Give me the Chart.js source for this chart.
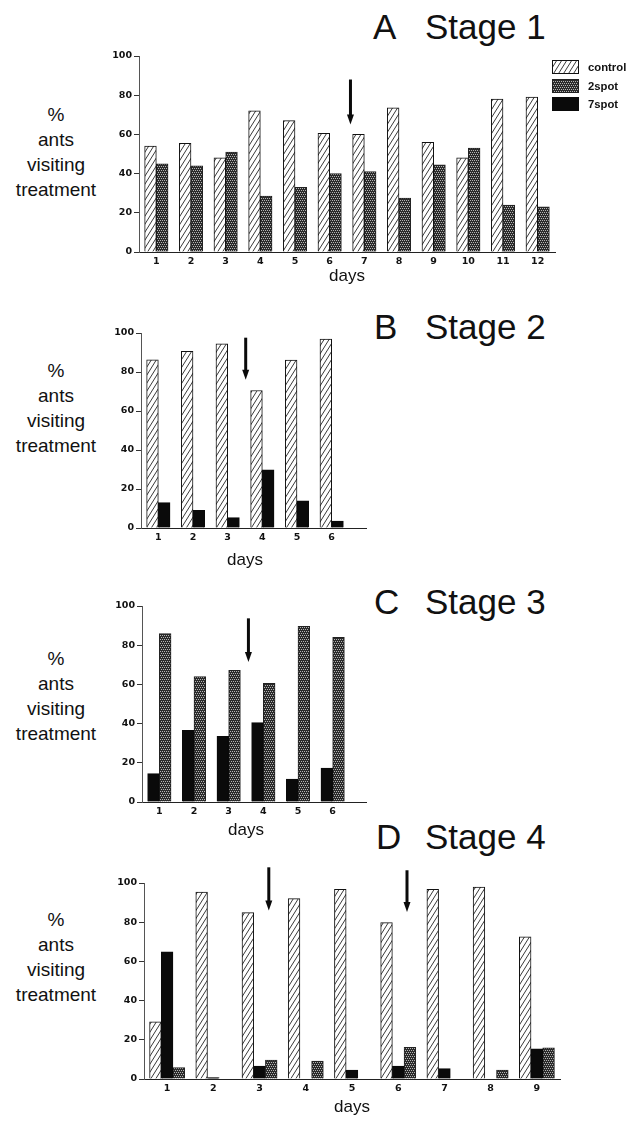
<!DOCTYPE html>
<html>
<head>
<meta charset="utf-8">
<script src="https://cdn.jsdelivr.net/npm/chart.js@4.4.1/dist/chart.umd.min.js"></script>
<style>
    body { margin: 0; background: #fff; }
    #page { position: relative; width: 628px; height: 1125px; overflow: hidden; font-family: "Liberation Sans", Arial, sans-serif; color: #111; }
    .panel { position: absolute; left: 0; }
    .ylab { position: absolute; left: 0; width: 112px; text-align: center; font-size: 19px; line-height: 25px; }
    .title { position: absolute; font-size: 35px; line-height: 35px; white-space: pre; }
    #legend { position: absolute; left: 552px; top: 60px; }
    .leg-row { display: flex; align-items: center; height: 14px; margin-bottom: 4.5px; font-size: 11.3px; font-weight: bold; }
    .leg-row canvas { display: block; margin-right: 9px; }
</style>
</head>
<body>
<div id="page">
    <div class="title" style="left:373px; top:9px;">A</div>
    <div class="title" style="left:425px; top:9px;">Stage 1</div>
    <div class="title" style="left:374px; top:309px;">B</div>
    <div class="title" style="left:425px; top:309px;">Stage 2</div>
    <div class="title" style="left:374px; top:584px;">C</div>
    <div class="title" style="left:425px; top:584px;">Stage 3</div>
    <div class="title" style="left:376px; top:819px;">D</div>
    <div class="title" style="left:425px; top:819px;">Stage 4</div>

    <div class="ylab" style="top:102px;">%<br>ants<br>visiting<br>treatment</div>
    <div class="ylab" style="top:358px;">%<br>ants<br>visiting<br>treatment</div>
    <div class="ylab" style="top:646px;">%<br>ants<br>visiting<br>treatment</div>
    <div class="ylab" style="top:907px;">%<br>ants<br>visiting<br>treatment</div>

    <canvas id="chartA" class="panel" width="628" height="300" style="top:0px;"></canvas>
    <canvas id="chartB" class="panel" width="628" height="290" style="top:290px;"></canvas>
    <canvas id="chartC" class="panel" width="628" height="270" style="top:575px;"></canvas>
    <canvas id="chartD" class="panel" width="628" height="285" style="top:840px;"></canvas>

    <div id="legend"></div>
</div>

<script>
// Stage 1
const daysA = ['1', '2', '3', '4', '5', '6', '7', '8', '9', '10', '11', '12'];
const controlA = [54, 55.5, 48, 72, 67, 60.5, 60, 73.5, 56, 48, 78, 79];
const twoSpotA = [45, 44, 51, 28.5, 33, 40, 41, 27.5, 44.5, 53, 24, 23];

// Stage 2
const daysB = ['1', '2', '3', '4', '5', '6'];
const controlB = [86.3, 90.6, 94.5, 70.5, 86.1, 96.9];
const sevenSpotB = [13, 9, 5.3, 29.8, 13.9, 3.6];

// Stage 3
const daysC = ['1', '2', '3', '4', '5', '6'];
const sevenSpotC = [14.5, 36.6, 33.5, 40.5, 11.7, 17.3];
const twoSpotC = [85.9, 64, 67.2, 60.5, 89.6, 84];

// Stage 4
const daysD = ['1', '2', '3', '4', '5', '6', '7', '8', '9'];
const controlD = [29.2, 95.4, 84.9, 92, 96.8, 79.8, 96.8, 97.9, 72.5];
const sevenSpotD = [64.9, 0.7, 6.6, null, 4.6, 6.6, 5.3, null, 15.4];
const twoSpotD = [5.8, null, 9.7, 9.2, null, 16.1, null, 4.6, 15.9];

// arrows: [day position, top value, tip value]
const arrowsA = [[6.6, 88, 65]];
const arrowsB = [[3.52, 97.6, 76]];
const arrowsC = [[3.57, 93.7, 71.4]];
const arrowsD = [[3.2, 108, 86], [6.19, 106.5, 85.2]];

const yTicks = [0, 20, 40, 60, 80, 100];
const legendNames = ['control', '2spot', '7spot'];

Chart.defaults.font.family = '"Liberation Sans", Arial, sans-serif';
Chart.defaults.color = '#111';

function makeHatch(ctx) {
    const c = document.createElement('canvas');
    const w = 5, h = 8;
    c.width = w; c.height = h;
    const g = c.getContext('2d');
    g.fillStyle = '#fff';
    g.fillRect(0, 0, w, h);
    g.strokeStyle = '#222';
    g.lineWidth = 0.9;
    g.beginPath();
    for (let k = -1; k <= 1; k++) {
        g.moveTo(k * w, h);
        g.lineTo(k * w + w, 0);
    }
    g.stroke();
    return ctx.createPattern(c, 'repeat');
}

function makeStipple(ctx) {
    const c = document.createElement('canvas');
    c.width = 4; c.height = 4;
    const g = c.getContext('2d');
    g.fillStyle = '#2b2b2b';
    g.fillRect(0, 0, 4, 4);
    g.fillStyle = '#b5b5b5';
    [[0, 0], [2, 0], [1, 2], [3, 2]].forEach(p => g.fillRect(p[0], p[1], 1, 1));
    return ctx.createPattern(c, 'repeat');
}

function fillFor(kind, ctx) {
    if (kind === 'control') return makeHatch(ctx);
    if (kind === 'twoSpot') return makeStipple(ctx);
    return '#0a0a0a';
}

const borders = { control: '#111', twoSpot: '#222', sevenSpot: '#0a0a0a' };

function series(kind, data, ctx) {
    return {
        data,
        backgroundColor: fillFor(kind, ctx),
        borderColor: borders[kind],
        borderWidth: 1,
        barThickness: 11.7
    };
}

const arrowPlugin = {
    id: 'arrows',
    afterDatasetsDraw(chart, args, opts) {
        const list = opts.list || [];
        const { ctx, scales: { x, y } } = chart;
        ctx.save();
        ctx.fillStyle = '#0a0a0a';
        ctx.strokeStyle = '#0a0a0a';
        list.forEach(a => {
            const px = x.getPixelForValue(a[0] - 1);
            const top = y.getPixelForValue(a[1]);
            const tip = y.getPixelForValue(a[2]);
            const head = 10;
            ctx.lineWidth = 3;
            ctx.beginPath();
            ctx.moveTo(px, top);
            ctx.lineTo(px, tip - head + 1);
            ctx.stroke();
            ctx.beginPath();
            ctx.moveTo(px - 3.5, tip - head);
            ctx.lineTo(px + 3.5, tip - head);
            ctx.lineTo(px, tip);
            ctx.closePath();
            ctx.fill();
        });
        ctx.restore();
    }
};

const axisExtPlugin = {
    id: 'axisExt',
    afterDraw(chart, args, opts) {
        if (!opts.length) return;
        const { ctx, chartArea } = chart;
        const yy = Math.round(chartArea.bottom) + 0.5;
        ctx.save();
        ctx.strokeStyle = '#222';
        ctx.lineWidth = 1;
        ctx.beginPath();
        ctx.moveTo(chartArea.right, yy);
        ctx.lineTo(chartArea.right + opts.length, yy);
        ctx.stroke();
        ctx.restore();
    }
};

const tickFont = { family: '"DejaVu Sans", sans-serif', size: 9.5, weight: 'bold' };

function makePanel(id, labels, kinds, values, p) {
    const ctx = document.getElementById(id).getContext('2d');
    const datasets = kinds.map((k, i) => series(k, values[i], ctx));
    return new Chart(ctx, {
        type: 'bar',
        data: { labels, datasets },
        options: {
            responsive: false,
            animation: false,
            events: [],
            layout: { padding: p.padding },
            plugins: {
                legend: { display: false },
                tooltip: { enabled: false },
                arrows: { list: p.arrows },
                axisExt: { length: p.ext || 0 }
            },
            scales: {
                x: {
                    offset: true,
                    grid: { display: false, drawTicks: false },
                    border: { color: '#222', width: 1 },
                    ticks: { font: tickFont, color: '#111', padding: 4, maxRotation: 0, autoSkip: false },
                    title: { display: true, text: 'days', color: '#111', font: { size: 17 }, padding: 0 },
                    afterFit: s => { s.height = p.xHeight; }
                },
                y: {
                    min: 0,
                    max: 100,
                    afterBuildTicks: s => { s.ticks = yTicks.map(v => ({ value: v })); },
                    grid: { drawOnChartArea: false, drawTicks: true, tickLength: 5, color: '#333' },
                    border: { color: '#555', width: 1 },
                    ticks: { font: tickFont, color: '#111', padding: 2 },
                    afterFit: s => { s.width = 40; }
                }
            }
        },
        plugins: [arrowPlugin, axisExtPlugin]
    });
}

function buildLegend() {
    const box = document.getElementById('legend');
    ['control', 'twoSpot', 'sevenSpot'].forEach((kind, i) => {
        const row = document.createElement('div');
        row.className = 'leg-row';
        const sw = document.createElement('canvas');
        sw.width = 27; sw.height = 14;
        const g = sw.getContext('2d');
        g.fillStyle = fillFor(kind, g);
        g.fillRect(0, 0, 27, 14);
        g.strokeStyle = borders[kind];
        g.lineWidth = 1;
        g.strokeRect(0.5, 0.5, 26, 13);
        row.appendChild(sw);
        const txt = document.createElement('span');
        txt.textContent = legendNames[i];
        row.appendChild(txt);
        box.appendChild(row);
    });
}

makePanel('chartA', daysA, ['control', 'twoSpot'], [controlA, twoSpotA], {
    padding: { top: 56, left: 99, right: 73, bottom: 13 },
    xHeight: 35,
    arrows: arrowsA
});

makePanel('chartB', daysB, ['control', 'sevenSpot'], [controlB, sevenSpotB], {
    padding: { top: 43, left: 101, right: 279, bottom: 9 },
    xHeight: 43,
    ext: 18,
    arrows: arrowsB
});

makePanel('chartC', daysC, ['sevenSpot', 'twoSpot'], [sevenSpotC, twoSpotC], {
    padding: { top: 31, left: 102, right: 278, bottom: 4 },
    xHeight: 39,
    ext: 17,
    arrows: arrowsC
});

makePanel('chartD', daysD, ['control', 'sevenSpot', 'twoSpot'], [controlD, sevenSpotD, twoSpotD], {
    padding: { top: 43, left: 104, right: 68, bottom: 7 },
    xHeight: 39,
    arrows: arrowsD
});

buildLegend();
</script>
</body>
</html>
